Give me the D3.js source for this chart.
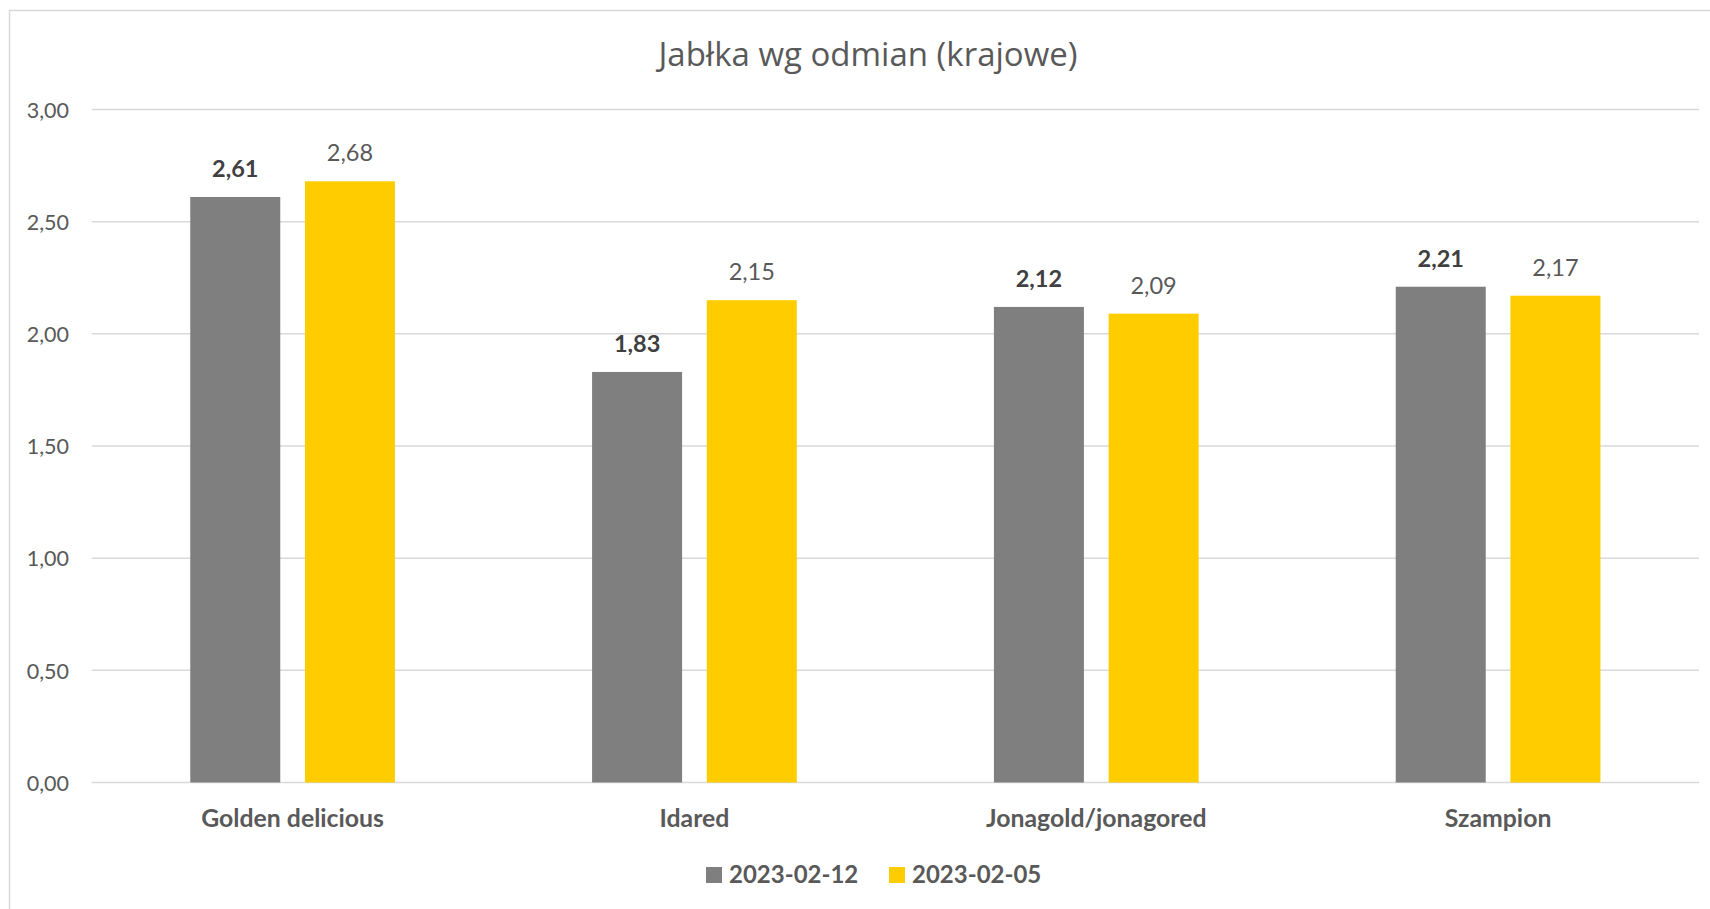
<!DOCTYPE html>
<html><head><meta charset="utf-8">
<script src="https://cdn.jsdelivr.net/npm/d3@7"></script>
<style>body{margin:0;background:#fff}svg{display:block}</style>
</head><body><svg id="c" width="1710" height="909"></svg>
<script>
const categories = ["Golden delicious", "Idared", "Jonagold/jonagored", "Szampion"];
const seriesNames = ["2023-02-12", "2023-02-05"];
const series1 = [2.61, 1.83, 2.12, 2.21];
const series2 = [2.68, 2.15, 2.09, 2.17];
const yTicks = [0, 0.5, 1, 1.5, 2, 2.5, 3];
const title = "Jabłka wg odmian (krajowe)";
const colors = ["#7f7f7f", "#ffcc00"];

const svg = d3.select("#c");
const txt = "#595959";
const fmt = v => d3.format(".2f")(v).replace(".", ",");

// outer border
svg.append("rect").attr("x", 9.5).attr("y", 10.5).attr("width", 1720).attr("height", 920)
  .attr("fill", "#fff").attr("stroke", "#d9d9d9").attr("stroke-width", 1.5);

const x0 = 91.7, x1 = 1699, yTop = 109.5, yBot = 782.5;
const y = d3.scaleLinear().domain([0, 3]).range([yBot, yTop]);
const xb = d3.scaleBand().domain(categories).range([x0, x1]).paddingInner(0).paddingOuter(0);
const bw = 90, gap = 24.7;

// gridlines
svg.append("g").selectAll("line").data(yTicks).join("line")
  .attr("x1", x0).attr("x2", x1).attr("y1", d => y(d)).attr("y2", d => y(d))
  .attr("stroke", "#d9d9d9").attr("stroke-width", 1.5);

// y axis labels
const yAxis = d3.axisLeft(y).tickValues(yTicks).tickFormat(fmt).tickSize(0).tickPadding(0);
const ya = svg.append("g").attr("transform", "translate(69,0)").call(yAxis);
ya.select(".domain").remove();
ya.selectAll("text").attr("fill", txt).style("font-family", "Lato").style("font-size", "21.5px").attr("dy", "0.36em");

// bars
const data = [series1, series2];
data.forEach((s, si) => {
  const g = svg.append("g");
  g.selectAll("rect").data(s).join("rect")
    .attr("x", (d, i) => xb(categories[i]) + xb.bandwidth() / 2 - bw - gap / 2 + si * (bw + gap))
    .attr("width", bw)
    .attr("y", d => y(d)).attr("height", d => y(0) - y(d))
    .attr("fill", colors[si]);
  g.selectAll("text").data(s).join("text")
    .attr("x", (d, i) => xb(categories[i]) + xb.bandwidth() / 2 - bw / 2 - gap / 2 + si * (bw + gap))
    .attr("y", d => y(d) - 20)
    .attr("text-anchor", "middle")
    .attr("fill", si === 0 ? "#404040" : txt)
    .style("font-family", "Lato").style("font-size", "23.5px")
    .style("font-weight", si === 0 ? "bold" : "normal")
    .text(d => fmt(d));
});

// x axis labels
const xAxis = d3.axisBottom(xb).tickSize(0).tickPadding(0);
const xa = svg.append("g").attr("transform", `translate(0,${yBot})`).call(xAxis);
xa.select(".domain").remove();
xa.selectAll("text").attr("y", 0).attr("dy", 0).attr("transform", "translate(0,44)")
  .attr("fill", txt).style("font-family", "Lato").style("font-size", "24.8px").style("font-weight", "bold");

// title
svg.append("text").attr("x", 868).attr("y", 66).attr("text-anchor", "middle")
  .attr("fill", txt).style("font-family", "Open Sans").style("font-size", "33px").text(title);

// legend
const legX = [706, 889];
const leg = svg.append("g");
seriesNames.forEach((n, i) => {
  leg.append("rect").attr("x", legX[i]).attr("y", 867).attr("width", 16).attr("height", 16).attr("fill", colors[i]);
  leg.append("text").attr("x", legX[i] + 23).attr("y", 882.5).attr("fill", txt)
    .style("font-family", "Lato").style("font-size", "24px").style("font-weight", "bold").text(n);
});
</script></body></html>
